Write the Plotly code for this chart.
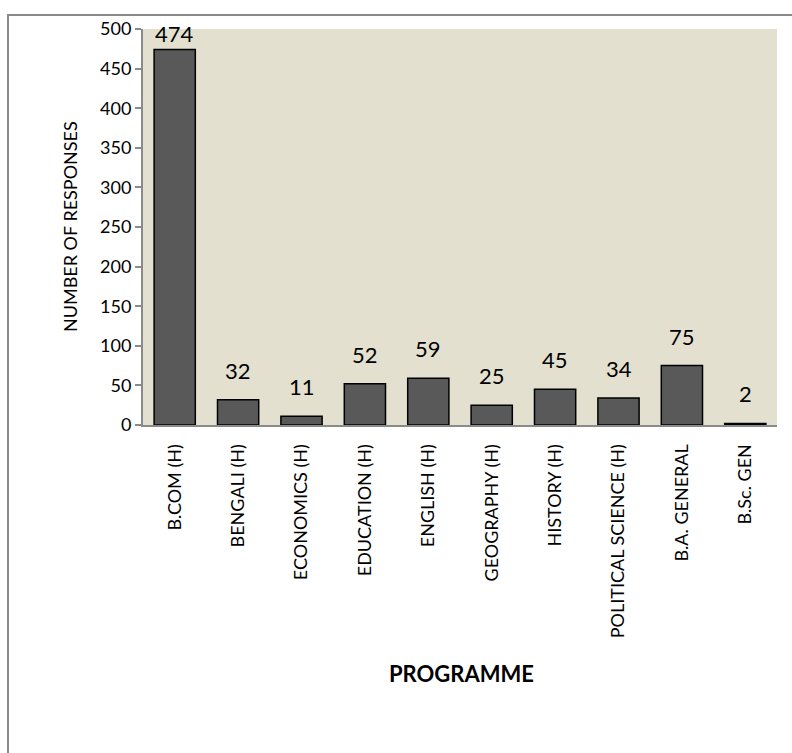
import plotly.graph_objects as go

categories = ["B.COM (H)", "BENGALI (H)", "ECONOMICS (H)", "EDUCATION (H)", "ENGLISH (H)",
              "GEOGRAPHY (H)", "HISTORY (H)", "POLITICAL SCIENCE (H)", "B.A. GENERAL", "B.Sc. GEN"]
responses = [474, 32, 11, 52, 59, 25, 45, 34, 75, 2]
y_ticks = [0, 50, 100, 150, 200, 250, 300, 350, 400, 450, 500]

FONT = "Lato"
L, R, T, B = 143, 15, 29, 328
W, H = 792, 753
pw, ph = W - L - R, H - T - B

def px_x(x):
    return (x - L) / pw

def px_y(y):
    return (H - B - y) / ph

fig = go.Figure()
fig.add_trace(go.Bar(
    x=categories, y=responses,
    marker=dict(color="#595959", line=dict(color="#000000", width=1.5)),
    hoverinfo="x+y",
))

annotations = []
for c, v in zip(categories, responses):
    annotations.append(dict(
        x=c, y=v, xref="x", yref="y", text=str(v), showarrow=False,
        yanchor="bottom", yshift=(1 if v > 450 else 14),
        font=dict(family=FONT, size=22, color="#000000"),
    ))
annotations.append(dict(
    x=px_x(461), y=px_y(673), xref="paper", yref="paper", text="<b>PROGRAMME</b>",
    showarrow=False, xanchor="center", yanchor="middle",
    font=dict(family=FONT, size=22, color="#000000"),
))
annotations.append(dict(
    x=px_x(70), y=0.5, xref="paper", yref="paper", text="NUMBER OF RESPONSES",
    showarrow=False, textangle=-90, xanchor="center", yanchor="middle",
    font=dict(family=FONT, size=18, color="#000000"),
))

fig.update_layout(
    width=W, height=H,
    margin=dict(l=L, r=R, t=T, b=B, pad=0),
    paper_bgcolor="#FFFFFF",
    plot_bgcolor="#E3E0D0",
    bargap=0.35,
    showlegend=False,
    annotations=annotations,
    shapes=[dict(
        type="rect", xref="paper", yref="paper",
        x0=px_x(8), x1=px_x(810), y0=px_y(780), y1=px_y(15),
        line=dict(color="#8A8A8A", width=2), fillcolor="rgba(0,0,0,0)", layer="below",
    )],
)
fig.update_xaxes(
    tickangle=-90, showgrid=False, showline=True, linecolor="#8A8A8A", linewidth=2,
    ticks="", ticklabelstandoff=10,
    tickfont=dict(family=FONT, size=18, color="#000000"),
)
fig.update_yaxes(
    range=[0, 500], tickvals=y_ticks, showgrid=False, zeroline=False,
    showline=True, linecolor="#8A8A8A", linewidth=2,
    ticks="outside", ticklen=6, tickcolor="#8A8A8A", tickwidth=1.5,
    tickfont=dict(family=FONT, size=18, color="#000000"),
)

fig.write_html("out.html")
